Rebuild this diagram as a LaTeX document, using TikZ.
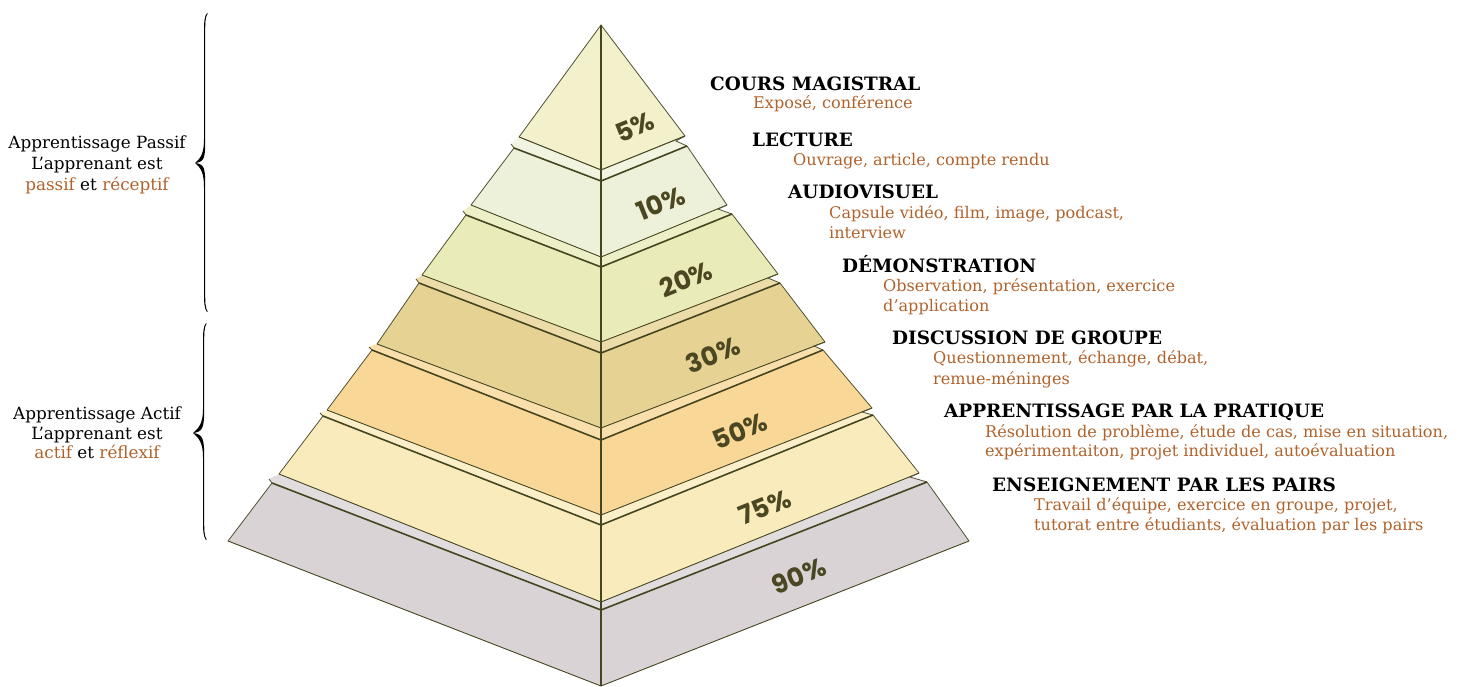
\documentclass[tikz,border=0pt]{standalone}
\usepackage{fontspec}
\setmainfont{DejaVu Serif}
\newfontfamily\pctfont{Poppins}
\definecolor{olv}{HTML}{45451F}
\definecolor{pcttext}{HTML}{4B4722}
\definecolor{brn}{HTML}{B0622B}
\definecolor{cA}{HTML}{F3F1CB}
\definecolor{cB}{HTML}{EEF1DA}
\definecolor{cC}{HTML}{E9EBB8}
\definecolor{cD}{HTML}{E6D394}
\definecolor{cE}{HTML}{F8D797}
\definecolor{cF}{HTML}{FAEBBD}
\definecolor{cG}{HTML}{D9D3D6}
\newcommand\calbrace[5]{%
  \fill[black] ({#1+3},{#2}) .. controls ({#1},{#2+4}) and ({#1},{#2+10}) .. ({#1},{#2+22})
   -- ({#1},{#3-24}) .. controls ({#1},{#3-10}) and ({#5+6},{#3-5}) .. ({#5},{#3})
   .. controls ({#5+6},{#3+5}) and ({#1},{#3+10}) .. ({#1},{#3+24})
   -- ({#1},{#4-22}) .. controls ({#1},{#4-10}) and ({#1},{#4-4}) .. ({#1+3},{#4})
   -- ({#1+3.6},{#4-0.6}) .. controls ({#1+1.2},{#4-4}) and ({#1+1.2},{#4-10}) .. ({#1+1.2},{#4-22})
   -- ({#1+1.2},{#3+24}) .. controls ({#1+1.2},{#3+6}) and ({#5+10},{#3+1}) .. ({#5},{#3})
   .. controls ({#5+10},{#3-1}) and ({#1+1.2},{#3-6}) .. ({#1+1.2},{#3-24})
   -- ({#1+1.2},{#2+22}) .. controls ({#1+1.2},{#2+10}) and ({#1+1.2},{#2+4}) .. ({#1+3.6},{#2+0.6}) -- cycle;}
\tikzset{
  frontline/.style={draw=olv, line width=1.6pt, line join=round},
  backline/.style={draw=olv, line width=0.9pt, line join=round},
  sideline/.style={draw=olv!80!gray, line width=0.8pt},
  midline/.style={draw=olv, line width=1.1pt},
  pct/.style={text=pcttext, font=\pctfont\bfseries\fontsize{26}{26}\selectfont, rotate=22, inner sep=0pt},
  hd/.style={font=\bfseries\fontsize{18.4}{22}\selectfont, anchor=base west, inner sep=0pt, text=black},
  sb/.style={font=\fontsize{16.1}{20}\selectfont, anchor=base west, inner sep=0pt, text=brn},
  lt/.style={font=\fontsize{16.8}{20}\selectfont, anchor=base, inner sep=0pt, text=black},
}
\begin{document}
\begin{tikzpicture}[x=1pt, y=-1pt]
\useasboundingbox (0,0) rectangle (1463,686);
% ---------- coordinates ----------
\coordinate (A) at (601,25);
\coordinate (L1BL) at (519,137); \coordinate (L1BC) at (601,170); \coordinate (L1BR) at (685,136);
\coordinate (L2TL) at (514,148); \coordinate (L2TC) at (601,181); \coordinate (L2TR) at (687,146);
\coordinate (L2BL) at (471,205); \coordinate (L2BC) at (601,257); \coordinate (L2BR) at (727,205);
\coordinate (L3TL) at (466,215); \coordinate (L3TC) at (601,267); \coordinate (L3TR) at (732,214);
\coordinate (L3BL) at (422,275); \coordinate (L3BC) at (601,342); \coordinate (L3BR) at (778,274);
\coordinate (L4TL) at (419,283); \coordinate (L4TC) at (601,353); \coordinate (L4TR) at (780,283);
\coordinate (L4BL) at (377,344); \coordinate (L4BC) at (601,428); \coordinate (L4BR) at (825,342);
\coordinate (L5TL) at (372,350); \coordinate (L5TC) at (601,440); \coordinate (L5TR) at (823,350);
\coordinate (L5BL) at (327,410); \coordinate (L5BC) at (601,515); \coordinate (L5BR) at (872,408);
\coordinate (L6TL) at (323,416); \coordinate (L6TC) at (601,525); \coordinate (L6TR) at (873,415);
\coordinate (L6BL) at (279,474); \coordinate (L6BC) at (601,602); \coordinate (L6BR) at (919,473);
\coordinate (L7TL) at (272,483); \coordinate (L7TC) at (601,610); \coordinate (L7TR) at (927,482);
\coordinate (L7BL) at (228,541); \coordinate (L7BC) at (601,686); \coordinate (L7BR) at (969,541);
\coordinate (n2L) at (511,144); \coordinate (n2R) at (676,141);
\coordinate (n3L) at (463,211); \coordinate (n3R) at (718,209);
\coordinate (n4L) at (416,279); \coordinate (n4R) at (768,278);
\coordinate (n5L) at (369,347); \coordinate (n5R) at (814,346);
\coordinate (n6L) at (320,413); \coordinate (n6R) at (862,412);
\coordinate (n7L) at (269,479); \coordinate (n7R) at (910,477);
% ---------- top piece ----------
\fill[cA] (A) -- (L1BR) -- (L1BC) -- (L1BL) -- cycle;
\draw[sideline] (L1BL) -- (A) -- (L1BR);
\draw[backline] (L1BL) -- (L1BC) -- (L1BR);
\draw[midline] (A) -- (L1BC);
% ---------- layers ----------
\foreach \p/\i/\c in {1/2/cB, 2/3/cC, 3/4/cD, 4/5/cE, 5/6/cF, 6/7/cG}{
  \fill[\c!80!white] (L\p BL) -- (L\p BC) -- (L\p BR) -- (n\i R) -- (L\i TR) -- (L\i TC) -- (L\i TL) -- (n\i L) -- cycle;
  \draw[backline] (L\p BL) -- (L\p BC) -- (L\p BR);
  \fill[\c] (L\i TL) -- (L\i TC) -- (L\i TR) -- (L\i BR) -- (L\i BC) -- (L\i BL) -- cycle;
  \draw[sideline] (L\i TL) -- (L\i BL);
  \draw[sideline] (L\i TR) -- (L\i BR);
  \draw[sideline] (n\i L) -- (L\i TL);
  \draw[sideline] (L\p BR) -- (n\i R) -- (L\i TR);
  \draw[frontline] (L\i TL) -- (L\i TC) -- (L\i TR);
  \draw[midline] (L\p BC) -- (L\i BC);
}
\draw[backline] (L7BL) -- (L7BC) -- (L7BR);
% ---------- percentages ----------
\node[pct] (p1) at (635,127) {5\%};
\node[pct] (p2) at (661,203) {10\%};
\node[pct] (p3) at (686,279) {20\%};
\node[pct] (p4) at (713,355) {30\%};
\node[pct] (p5) at (740,431) {50\%};
\node[pct] (p6) at (765,507) {75\%};
\node[pct] (p7) at (799,576) {90\%};
% ---------- right texts ----------
\node[hd] (h1) at (710,90) {COURS MAGISTRAL};
\node[sb] (s1) at (753,108.5) {Exposé, conférence};
\node[hd] (h2) at (752,146) {LECTURE};
\node[sb] (s2) at (793,165) {Ouvrage, article, compte rendu};
\node[hd] (h3) at (788,198.5) {AUDIOVISUEL};
\node[sb] (s3a) at (829,218) {Capsule vidéo, film, image, podcast,};
\node[sb] (s3b) at (829,238) {interview};
\node[hd] (h4) at (842,272.5) {DÉMONSTRATION};
\node[sb] (s4a) at (883,291.5) {Observation, présentation, exercice};
\node[sb] (s4b) at (883,311.5) {d’application};
\node[hd] (h5) at (892,344.5) {DISCUSSION DE GROUPE};
\node[sb] (s5a) at (933,363.5) {Questionnement, échange, débat,};
\node[sb] (s5b) at (933,384) {remue-méninges};
\node[hd] (h6) at (944,417.7) {APPRENTISSAGE PAR LA PRATIQUE};
\node[sb] (s6a) at (985,437.7) {Résolution de problème, étude de cas, mise en situation,};
\node[sb] (s6b) at (985,456.7) {expérimentaiton, projet individuel, autoévaluation};
\node[hd] (h7) at (992,491.7) {ENSEIGNEMENT PAR LES PAIRS};
\node[sb] (s7a) at (1034,510.5) {Travail d’équipe, exercice en groupe, projet,};
\node[sb] (s7b) at (1034,530) {tutorat entre étudiants, évaluation par les pairs};
% ---------- left texts and braces ----------
\node[lt] (pa1) at (97,148.3) {Apprentissage Passif};
\node[lt] (pa2) at (97,169.3) {L’apprenant est};
\node[lt] (pa3) at (97,190) {\textcolor{brn}{passif} et \textcolor{brn}{réceptif}};
\node[lt] (ac1) at (97,419) {Apprentissage Actif};
\node[lt] (ac2) at (97,439.3) {L’apprenant est};
\node[lt] (ac3) at (97,458.3) {\textcolor{brn}{actif} et \textcolor{brn}{réflexif}};
\calbrace{204}{13}{163}{312}{195}
\calbrace{203}{323}{433}{540}{193}
\end{tikzpicture}
\end{document}
